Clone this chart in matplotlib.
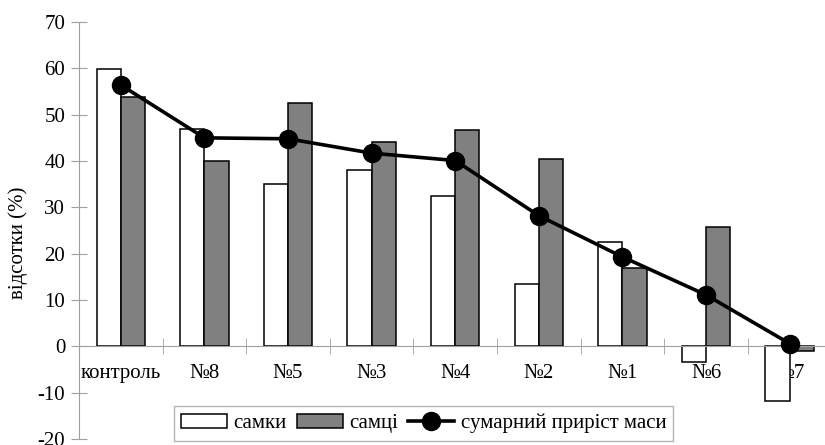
import numpy as np
import matplotlib.pyplot as plt

# Дані
categories = ['контроль', '№8', '№5', '№3', '№4', '№2', '№1', '№6', '№7']
samky = [59.8, 47.0, 35.0, 38.0, 32.4, 13.5, 22.5, -3.4, -11.7]
samtsi = [53.9, 40.1, 52.5, 44.2, 46.7, 40.4, 16.9, 25.7, -0.9]
sumarnyi = [56.4, 45.0, 44.8, 41.7, 40.1, 28.2, 19.3, 11.1, 0.6]

plt.rcParams['font.family'] = ['Liberation Serif', 'DejaVu Serif']
plt.rcParams['font.size'] = 15
plt.rcParams['axes.unicode_minus'] = False

fig = plt.figure(figsize=(8.25, 4.45), dpi=100)
ax = fig.add_axes([0.0958, 0.0135, 0.912, 0.937])

x = np.arange(len(categories))
w = 0.29
b1 = ax.bar(x - w / 2, samky, w, color='white', edgecolor='black', linewidth=1.1, label='самки', zorder=2)
b2 = ax.bar(x + w / 2, samtsi, w, color='#808080', edgecolor='black', linewidth=1.1, label='самці', zorder=2)
ln, = ax.plot(x, sumarnyi, color='black', linewidth=2.6, marker='o', markersize=13,
              label='сумарний приріст маси', zorder=3)

ax.set_xlim(-0.5, len(categories) - 0.5)
ax.set_ylim(-20, 70)
ax.set_yticks(range(-20, 71, 10))
ax.set_xticks(np.arange(len(categories) + 1) - 0.5, minor=True)
ax.set_xticks(x)
ax.set_xticklabels(categories)
for lbl in ax.get_xticklabels():
    if lbl.get_text() == 'контроль':
        lbl.set_fontsize(12)

# осі
for s in ['top', 'right']:
    ax.spines[s].set_visible(False)
ax.spines['bottom'].set_position(('data', 0))
ax.spines['bottom'].set_color('#a0a0a0')
ax.spines['left'].set_color('#a0a0a0')
ax.tick_params(axis='y', direction='inout', length=12, color='#a0a0a0', pad=4)
ax.tick_params(axis='x', which='major', length=0, pad=13)
ax.tick_params(axis='x', which='minor', direction='inout', length=12, color='#a0a0a0')
ax.set_ylabel('відсотки (%)')
ax.yaxis.set_label_coords(-0.068, 0.47)

leg = ax.legend([b1, b2, ln], ['самки', 'самці', 'сумарний приріст маси'],
                loc='lower left', bbox_to_anchor=(0.211, 0.01), bbox_transform=fig.transFigure,
                ncol=3, frameon=True, fancybox=False, edgecolor='#a0a0a0', borderaxespad=0,
                handlelength=2.2, handletextpad=0.3, columnspacing=0.5, borderpad=0.35)
leg.get_frame().set_linewidth(1.0)

fig.savefig('out.png', dpi=100)
